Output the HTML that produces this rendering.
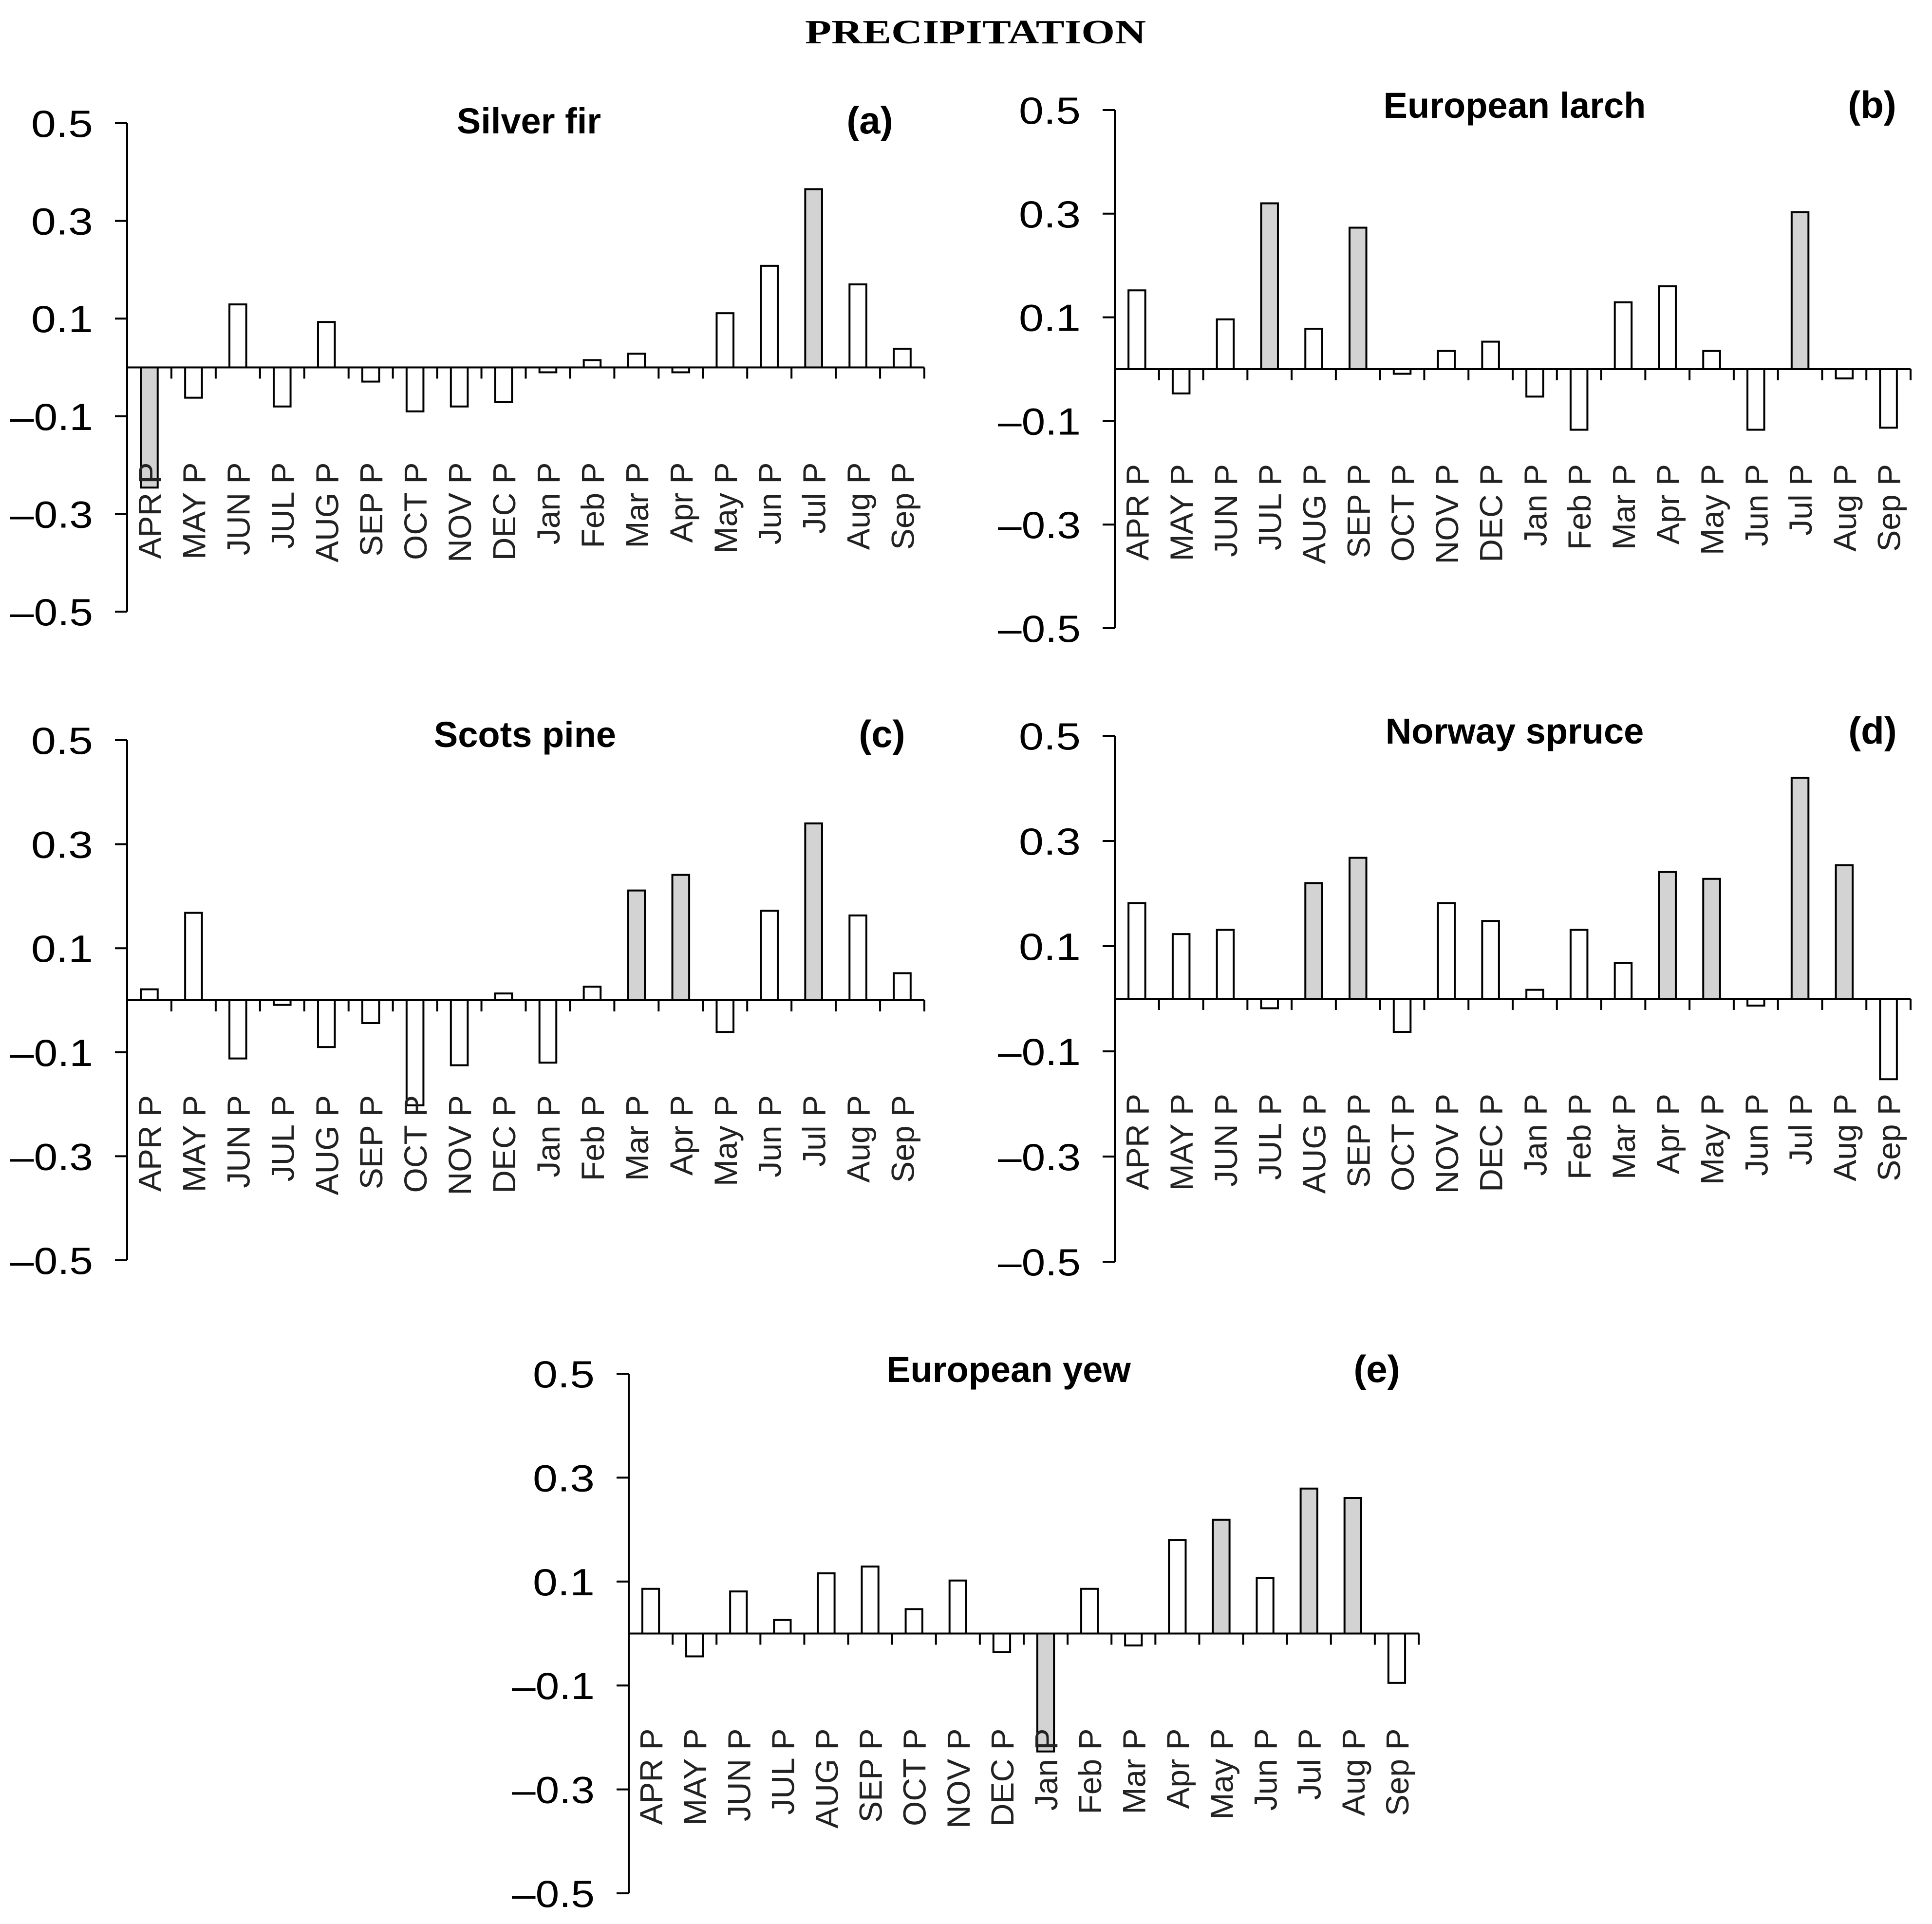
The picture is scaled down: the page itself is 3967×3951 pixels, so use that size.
<!DOCTYPE html>
<html><head><meta charset="utf-8"><style>
html,body{margin:0;padding:0;background:#fff;}
svg{display:block;}
</style></head><body>
<svg id="fig" xmlns="http://www.w3.org/2000/svg" width="3967" height="3951" viewBox="0 0 3967 3951">
<rect width="3967" height="3951" fill="#fff"/>
<text x="2003" y="89" text-anchor="middle" font-family="'Liberation Serif',serif" font-weight="bold" font-size="70" textLength="700" lengthAdjust="spacingAndGlyphs">PRECIPITATION</text>
</svg>
<script>
const categories = ["APR P","MAY P","JUN P","JUL P","AUG P","SEP P","OCT P","NOV P","DEC P","Jan P","Feb P","Mar P","Apr P","May P","Jun P","Jul P","Aug P","Sep P"];
const yTicks = [0.5, 0.3, 0.1, -0.1, -0.3, -0.5];
const yTickLabels = ["0.5","0.3","0.1","\u20130.1","\u20130.3","\u20130.5"];
const silverFir = [-0.246,-0.062,0.129,-0.08,0.093,-0.029,-0.09,-0.08,-0.071,-0.01,0.015,0.028,-0.01,0.111,0.208,0.365,0.17,0.038];
const silverFirSig = [1,0,0,0,0,0,0,0,0,0,0,0,0,0,0,1,0,0];
const europeanLarch = [0.152,-0.047,0.096,0.32,0.078,0.273,-0.009,0.035,0.053,-0.053,-0.117,0.129,0.16,0.035,-0.117,0.303,-0.018,-0.113];
const europeanLarchSig = [0,0,0,1,0,1,0,0,0,0,0,0,0,0,0,1,0,0];
const scotsPine = [0.021,0.168,-0.112,-0.009,-0.09,-0.044,-0.202,-0.125,0.013,-0.12,0.026,0.211,0.241,-0.061,0.172,0.34,0.163,0.052];
const scotsPineSig = [0,0,0,0,0,0,0,0,0,0,0,1,1,0,0,1,0,0];
const norwaySpruce = [0.182,0.123,0.131,-0.018,0.22,0.268,-0.063,0.182,0.148,0.017,0.131,0.068,0.241,0.228,-0.013,0.42,0.254,-0.153];
const norwaySpruceSig = [0,0,0,0,1,1,0,0,0,0,0,0,1,1,0,1,1,0];
const europeanYew = [0.086,-0.044,0.081,0.026,0.116,0.129,0.047,0.102,-0.036,-0.227,0.086,-0.023,0.18,0.219,0.107,0.279,0.261,-0.095];
const europeanYewSig = [0,0,0,0,0,0,0,0,0,1,0,0,0,1,0,1,1,0];

const NS="http://www.w3.org/2000/svg";
const svg=document.getElementById('fig');
function mk(tag,attrs,parent){const e=document.createElementNS(NS,tag);for(const k in attrs)e.setAttribute(k,attrs[k]);(parent||svg).appendChild(e);return e;}

const panels=[
 {id:'a',name:'Silver fir',vals:silverFir,sig:silverFirSig,x0:261,x1:1898,yTop:253,yBot:1256,tx:1086,ty:274,lx:1786},
 {id:'b',name:'European larch',vals:europeanLarch,sig:europeanLarchSig,x0:2289,x1:3923,yTop:226,yBot:1290,tx:3110,ty:242,lx:3844},
 {id:'c',name:'Scots pine',vals:scotsPine,sig:scotsPineSig,x0:261,x1:1898,yTop:1520,yBot:2588,tx:1078,ty:1534,lx:1811},
 {id:'d',name:'Norway spruce',vals:norwaySpruce,sig:norwaySpruceSig,x0:2289,x1:3923,yTop:1511,yBot:2591,tx:3110,ty:1527,lx:3845},
 {id:'e',name:'European yew',vals:europeanYew,sig:europeanYewSig,x0:1291,x1:2913,yTop:2821,yBot:3888,tx:2071,ty:2838,lx:2827}
];

panels.forEach(p=>{
 const g=mk('g',{});
 
 
 const y=v=>p.yTop+(0.5-v)/1.0*(p.yBot-p.yTop);
 const n=categories.length;
 const cw=(p.x1-p.x0)/n;
 const xc=i=>p.x0+cw*(i+0.5);
 const bw=cw*0.38;
 const ya=mk('line',{x1:p.x0,y1:p.yTop,x2:p.x0,y2:p.yBot,stroke:'#000','stroke-width':4},g);
 
 
 yTicks.forEach((t,k)=>{
  mk('line',{x1:p.x0-25,y1:y(t),x2:p.x0,y2:y(t),stroke:'#000','stroke-width':4},g);
  const tl=mk('text',{x:p.x0-70,y:y(t)+28,'text-anchor':'end','font-family':"'Liberation Sans',sans-serif",'font-size':78,fill:'#000',textLength:(t<0?170:127),lengthAdjust:'spacingAndGlyphs'},g);
  
  
  tl.textContent=yTickLabels[k];
 });
 p.vals.forEach((v,i)=>{
  const r=mk('rect',{x:xc(i)-bw/2,y:Math.min(y(v),y(0)),width:bw,height:Math.abs(y(v)-y(0)),fill:p.sig[i]?'#d3d3d3':'#fff',stroke:'#000','stroke-width':4},g);
  
  
 });
 const xa=mk('line',{x1:p.x0,y1:y(0),x2:p.x1,y2:y(0),stroke:'#000','stroke-width':4},g);
 
 
 for(let i=1;i<=n;i++){
  mk('line',{x1:p.x0+cw*i,y1:y(0),x2:p.x0+cw*i,y2:y(0)+23,stroke:'#000','stroke-width':4},g);
 }
 categories.forEach((c,i)=>{
  const bx=xc(i)+24, by=y(0)+195;
  const t=mk('text',{x:bx,y:by,'text-anchor':'end',transform:`rotate(-90 ${bx} ${by})`,'font-family':"'Liberation Sans',sans-serif",'font-size':66,fill:'#222'},g);
  
  
  t.textContent=c;
 });
 const tt=mk('text',{x:p.tx,y:p.ty,'text-anchor':'middle','font-family':"'Liberation Sans Narrow','Liberation Sans',sans-serif",'font-weight':'bold','font-size':74,fill:'#000'},g);
 
 
 tt.textContent=p.name;
 const lt=mk('text',{x:p.lx,y:p.ty,'text-anchor':'middle','font-family':"'Liberation Sans Narrow','Liberation Sans',sans-serif",'font-weight':'bold','font-size':78,fill:'#000'},g);
 
 
 lt.textContent='('+p.id+')';
});
</script>
</body></html>
